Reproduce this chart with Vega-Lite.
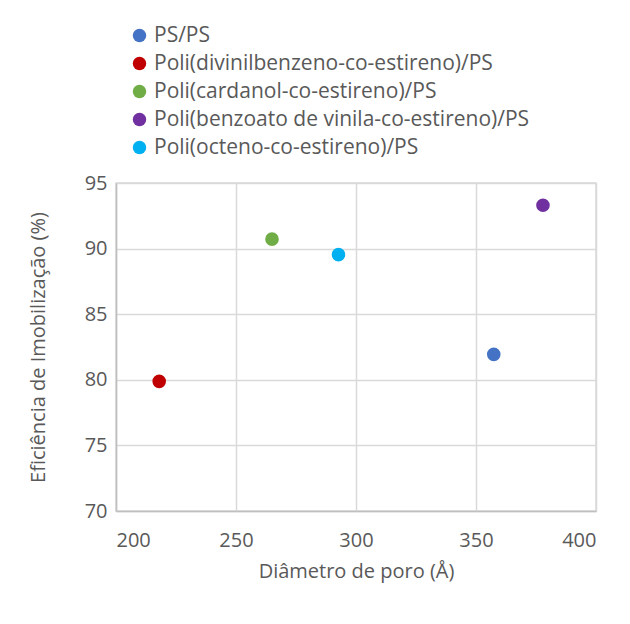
{
  "$schema": "https://vega.github.io/schema/vega-lite/v6.json",
  "width": 480,
  "height": 328,
  "autosize": "none",
  "padding": {"left": 116, "top": 183, "right": 34, "bottom": 113},
  "background": "white",
  "config": {
    "font": "Open Sans",
    "view": {"stroke": "#D9D9D9", "strokeWidth": 1.5},
    "axis": {
      "labelColor": "#595959",
      "titleColor": "#595959",
      "labelFontSize": 20,
      "titleFontSize": 20,
      "labelFont": "Open Sans",
      "titleFont": "Open Sans",
      "titleFontWeight": "normal",
      "gridColor": "#D9D9D9",
      "gridWidth": 1.5,
      "domainColor": "#BFBFBF",
      "domainWidth": 1.5,
      "ticks": false
    }
  },
  "data": {
    "values": [
      {"amostra": "PS/PS", "diametro": 357.4, "eficiencia": 81.94},
      {"amostra": "Poli(divinilbenzeno-co-estireno)/PS", "diametro": 218.0, "eficiencia": 79.88},
      {"amostra": "Poli(cardanol-co-estireno)/PS", "diametro": 265.0, "eficiencia": 90.72},
      {"amostra": "Poli(benzoato de vinila-co-estireno)/PS", "diametro": 377.9, "eficiencia": 93.3},
      {"amostra": "Poli(octeno-co-estireno)/PS", "diametro": 292.7, "eficiencia": 89.54}
    ]
  },
  "mark": {"type": "circle", "size": 185, "opacity": 1},
  "encoding": {
    "x": {
      "field": "diametro",
      "type": "quantitative",
      "scale": {"domain": [200, 400], "nice": false, "zero": false},
      "axis": {"values": [200, 250, 300, 350, 400], "title": "Diâmetro de poro (Å)", "labelPadding": 19, "titlePadding": 11}
    },
    "y": {
      "field": "eficiencia",
      "type": "quantitative",
      "scale": {"domain": [70, 95], "nice": false, "zero": false},
      "axis": {"values": [70, 75, 80, 85, 90, 95], "title": "Eficiência de Imobilização (%)", "labelPadding": 9, "titlePadding": 36}
    },
    "color": {
      "field": "amostra",
      "type": "nominal",
      "sort": ["PS/PS", "Poli(divinilbenzeno-co-estireno)/PS", "Poli(cardanol-co-estireno)/PS", "Poli(benzoato de vinila-co-estireno)/PS", "Poli(octeno-co-estireno)/PS"],
      "scale": {
        "domain": ["PS/PS", "Poli(divinilbenzeno-co-estireno)/PS", "Poli(cardanol-co-estireno)/PS", "Poli(benzoato de vinila-co-estireno)/PS", "Poli(octeno-co-estireno)/PS"],
        "range": ["#4472C4", "#C00000", "#70AD47", "#7030A0", "#00B0F0"]
      },
      "legend": {
        "title": null,
        "orient": "none",
        "legendX": 13,
        "legendY": -158,
        "symbolType": "circle",
        "symbolSize": 180,
        "symbolStrokeWidth": 0,
        "labelFontSize": 21,
        "labelFont": "Open Sans",
        "labelColor": "#595959",
        "labelOffset": 4,
        "rowPadding": 6,
        "labelLimit": 500
      }
    }
  }
}
